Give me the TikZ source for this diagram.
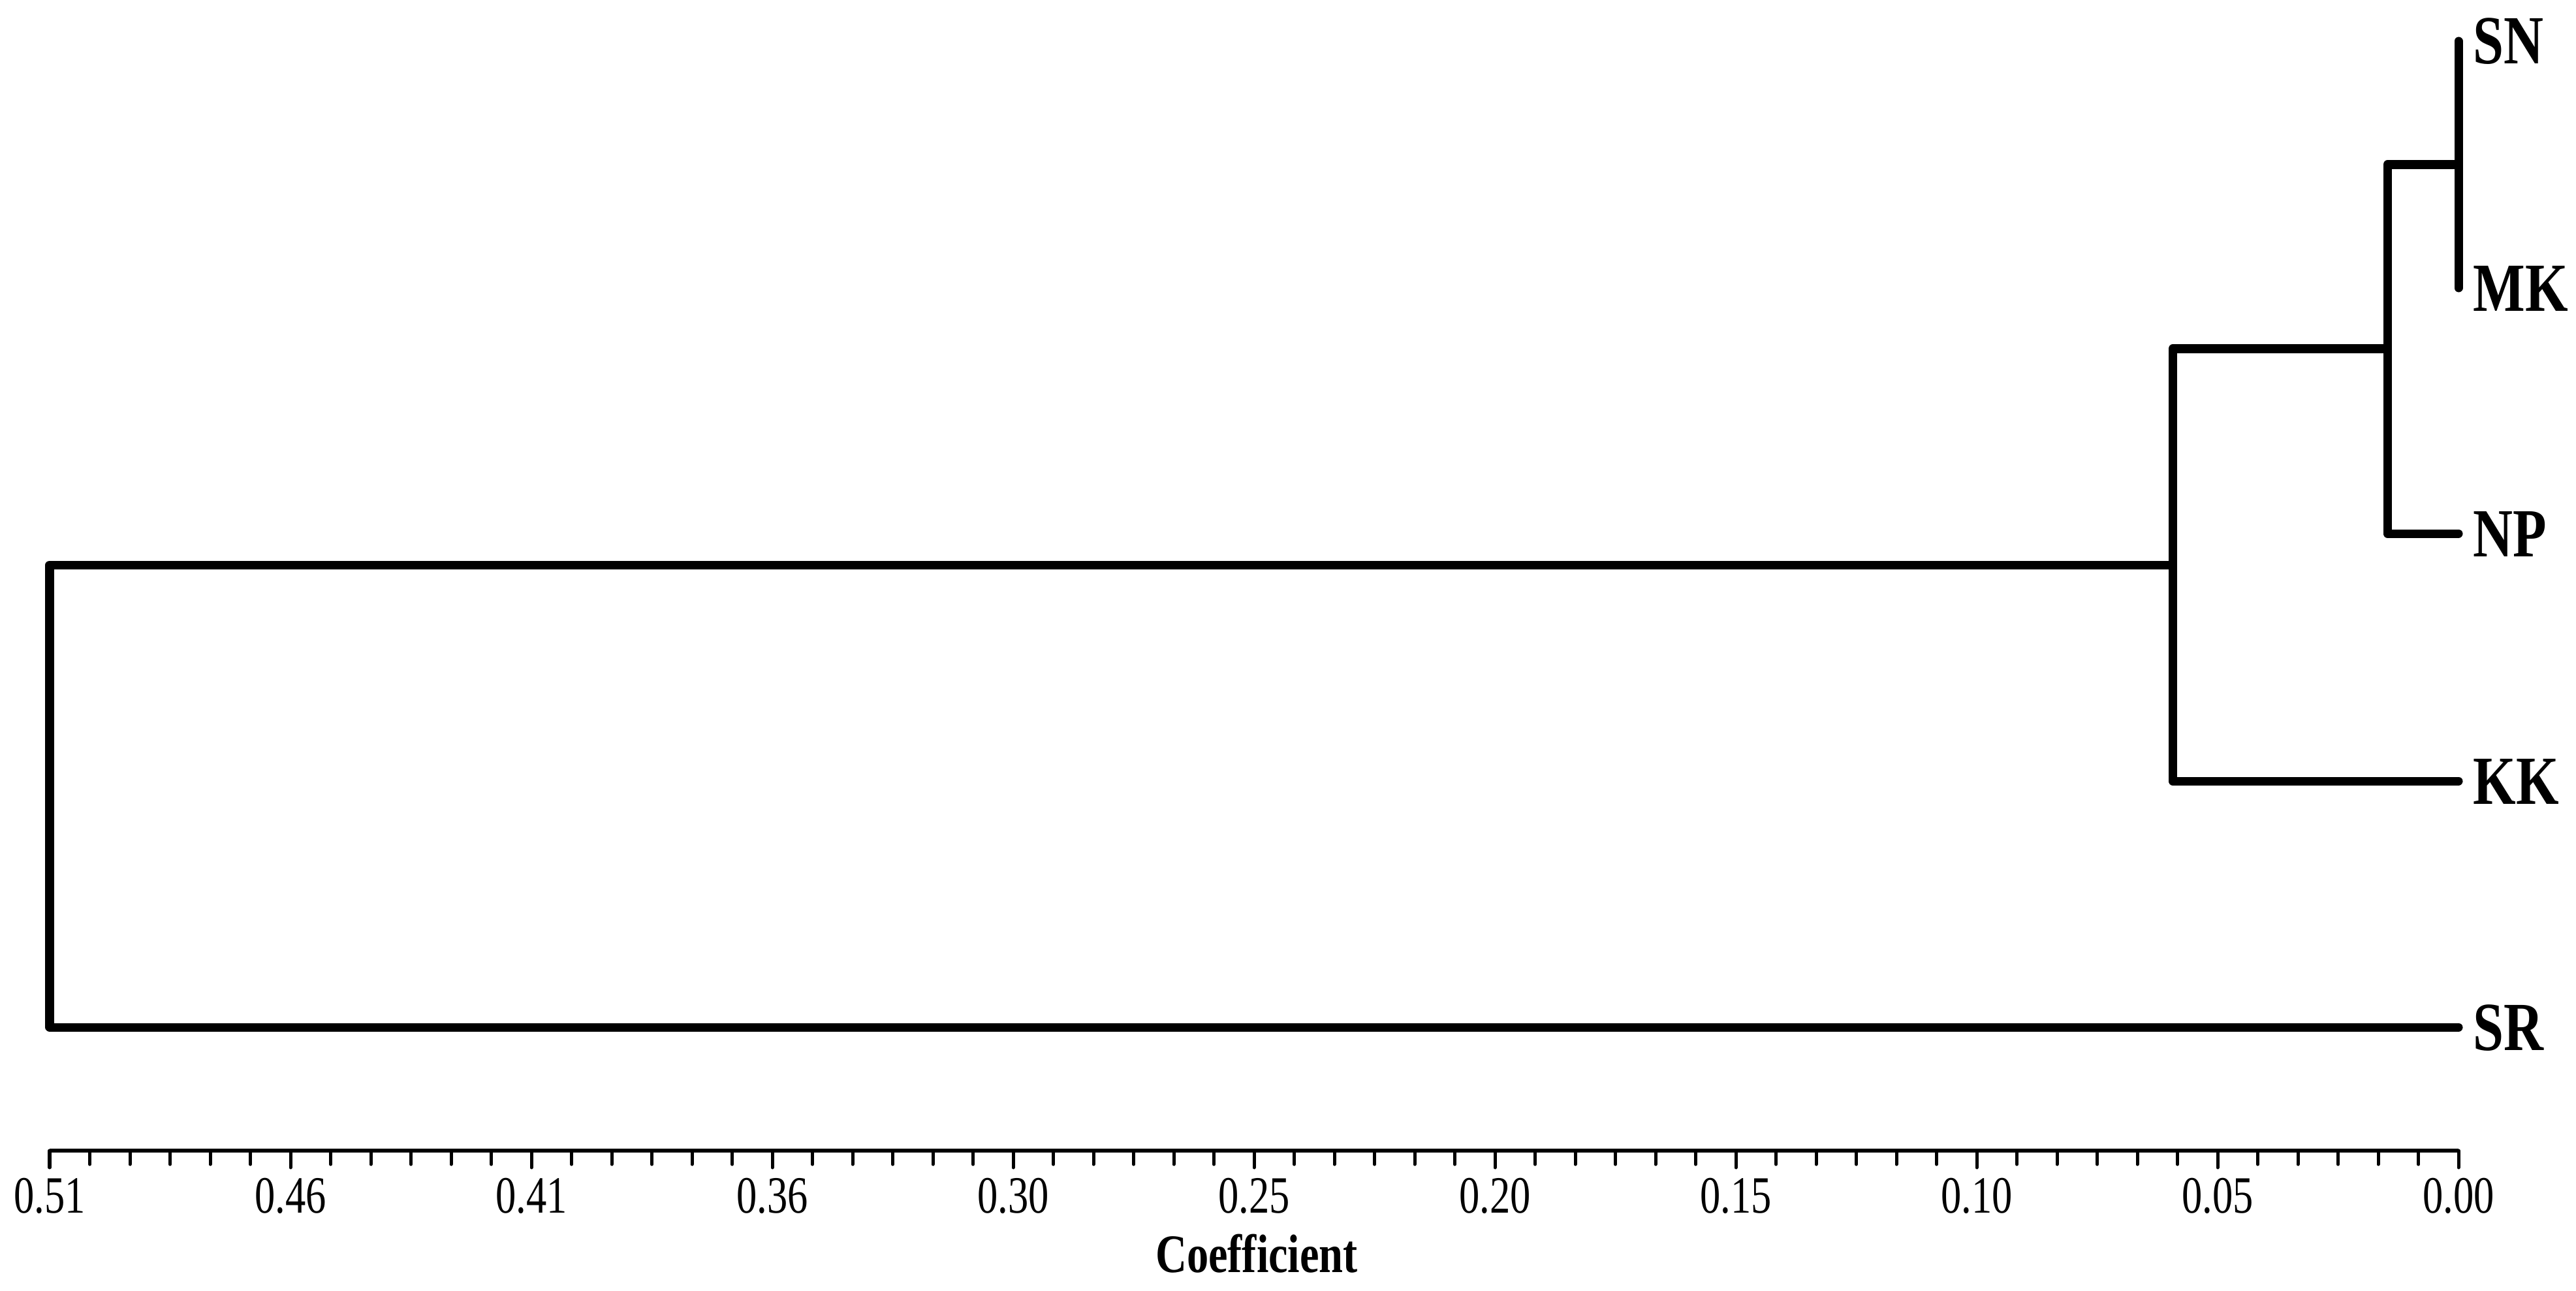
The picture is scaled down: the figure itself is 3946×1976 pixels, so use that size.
\documentclass[tikz,border=0pt]{standalone}
\usepackage{fontspec}
\setmainfont{Liberation Serif}
\usepackage{graphicx}
\begin{document}
\begin{tikzpicture}[x=0.01cm,y=-0.01cm,
  branch/.style={line width=0.13cm, line cap=round, line join=round},
  axisline/.style={line width=0.06cm},
  tickmark/.style={line width=0.05cm, line cap=round},
  leaflabel/.style={anchor=base west, inner sep=0pt, font=\fontsize{30}{36}\selectfont\bfseries},
  ticklabel/.style={anchor=base, inner sep=0pt, font=\fontsize{22.8}{27}\selectfont},
  axistitle/.style={anchor=base, inner sep=0pt, font=\fontsize{23.6}{28}\selectfont\bfseries}]
\useasboundingbox (0,0) rectangle (3946,1976);
% leaves
\coordinate (SN) at (3766,63);
\coordinate (MK) at (3766,441);
\coordinate (NP) at (3766,817);
\coordinate (KK) at (3766,1196);
\coordinate (SR) at (3766,1573);
% internal joins
\coordinate (m1) at (3766,252);
\coordinate (c1) at (3657,252);
\coordinate (m2) at (3657,534);
\coordinate (c2) at (3328,534);
\coordinate (m3) at (3328,865);
\coordinate (c3) at (76,865);
% branches
\draw[branch] (SN) -- (MK);
\draw[branch] (m1) -- (c1) |- (NP);
\draw[branch] (m2) -- (c2) |- (KK);
\draw[branch] (m3) -- (c3) |- (SR);
% leaf labels
\node[leaflabel] (lSN) at (3788,98) {\scalebox{0.8}[1]{SN}};
\node[leaflabel] (lMK) at (3788,476) {\scalebox{0.8}[1]{MK}};
\node[leaflabel] (lNP) at (3788,852) {\scalebox{0.8}[1]{NP}};
\node[leaflabel] (lKK) at (3788,1231) {\scalebox{0.8}[1]{KK}};
\node[leaflabel] (lSR) at (3788,1608) {\scalebox{0.8}[1]{SR}};
% axis
\coordinate (ax0) at (76,1762);
\coordinate (ax1) at (3766,1762);
\draw[axisline] (ax0) -- (ax1);
\foreach \k in {0,...,60}{
  \pgfmathsetmacro\xx{76+\k*61.5}
  \pgfmathtruncatemacro\mm{mod(\k,6)}
  \ifnum\mm=0
    \draw[tickmark] (\xx,1762) -- (\xx,1788);
  \else
    \draw[tickmark] (\xx,1762) -- (\xx,1783);
  \fi
}
\foreach \k/\lab in {0/0.51,1/0.46,2/0.41,3/0.36,4/0.30,5/0.25,6/0.20,7/0.15,8/0.10,9/0.05,10/0.00}{
  \pgfmathsetmacro\xx{76+\k*369}
  \node[ticklabel] (t\k) at (\xx,1857) {\scalebox{0.78}[1]{\lab}};
}
\node[axistitle] (coef) at (1925,1948) {\scalebox{0.8}[1]{Coefficient}};
\end{tikzpicture}
\end{document}
